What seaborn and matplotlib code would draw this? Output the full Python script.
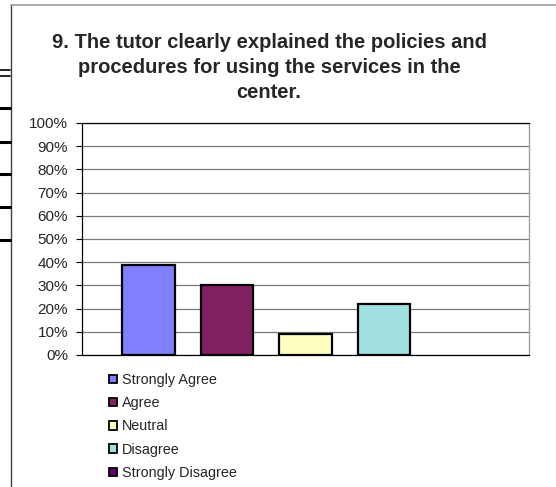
import matplotlib
matplotlib.use("Agg")
import matplotlib.pyplot as plt
import matplotlib as mpl
import seaborn as sns
import numpy as np
from matplotlib.patches import Patch
from matplotlib.lines import Line2D
from matplotlib.ticker import PercentFormatter

# survey answers for question 9
responses = ["Strongly Agree", "Agree", "Neutral", "Disagree", "Strongly Disagree"]
shares = [0.39, 0.30, 0.09, 0.22, 0.0]
bar_colors = ["#8080FF", "#802060", "#FFFFC0", "#A0E0E0", "#600070"]
y_ticks = [0.0, 0.1, 0.2, 0.3, 0.4, 0.5, 0.6, 0.7, 0.8, 0.9, 1.0]
title = "9. The tutor clearly explained the policies and\nprocedures for using the services in the\ncenter."

sns.set_style("white")
mpl.rcParams["font.family"] = ["Liberation Sans", "DejaVu Sans"]
mpl.rcParams["font.size"] = 10

W, H = 556, 487
fig = plt.figure(figsize=(W / 100, H / 100), dpi=100)
ax = fig.add_axes([82 / W, 1 - 355 / H, (529 - 82) / W, (355 - 123) / H])

sns.barplot(ax=ax, x=responses, y=shares, hue=responses, palette=bar_colors,
            order=responses, hue_order=responses, width=0.673,
            edgecolor="black", linewidth=1.6, legend=False, saturation=1)
# excel draws nothing for an empty bar
for p in ax.patches:
    if p.get_height() == 0:
        p.set_linewidth(0)

ax.set_xlim(-0.845, 4.845)
ax.set_ylim(0, 1)
ax.set_yticks(y_ticks)
ax.yaxis.set_major_formatter(PercentFormatter(1.0, decimals=0))
ax.set_xticks([])
ax.set_xlabel("")
ax.set_ylabel("")
ax.tick_params(axis="y", left=True, length=4, width=0.8, pad=6, labelsize=11, color="black")
ax.yaxis.grid(True, color="#7a7a7a", linewidth=0.9)
ax.set_axisbelow(True)
for side in ["left", "bottom", "top"]:
    ax.spines[side].set_color("black")
    ax.spines[side].set_linewidth(0.9)
ax.spines["right"].set_color("#a0a0a0")
ax.spines["right"].set_linewidth(1.0)

fig.text(269 / W, 1 - 33 / H, title, ha="center", va="top", fontsize=14.5,
         fontweight="bold", linespacing=1.4)

handles = [Patch(facecolor=c, edgecolor="black", linewidth=1.3) for c in bar_colors]
fig.legend(handles, responses, loc="upper left", bbox_to_anchor=(109 / W, 1 - 373 / H),
           frameon=False, fontsize=10.4, handlelength=0.55, handleheight=0.55,
           handletextpad=0.33, labelspacing=0.64, borderpad=0, borderaxespad=0)

# chart frame and bits of the page behind it
fig.add_artist(Line2D([10.5 / W, 10.5 / W], [0, 1 - 5 / H], color="#404040", linewidth=1.0))
fig.add_artist(Line2D([10.5 / W, 1], [1 - 5 / H, 1 - 5 / H], color="#999999", linewidth=1.2))
for y, lw in [(70, 1.2), (76, 1.2), (108, 2.2), (142, 2.2), (174, 2.2), (207, 2.2), (240, 2.2)]:
    fig.add_artist(Line2D([0, 10 / W], [1 - y / H, 1 - y / H], color="black", linewidth=lw))

fig.savefig("out.png", dpi=100)
